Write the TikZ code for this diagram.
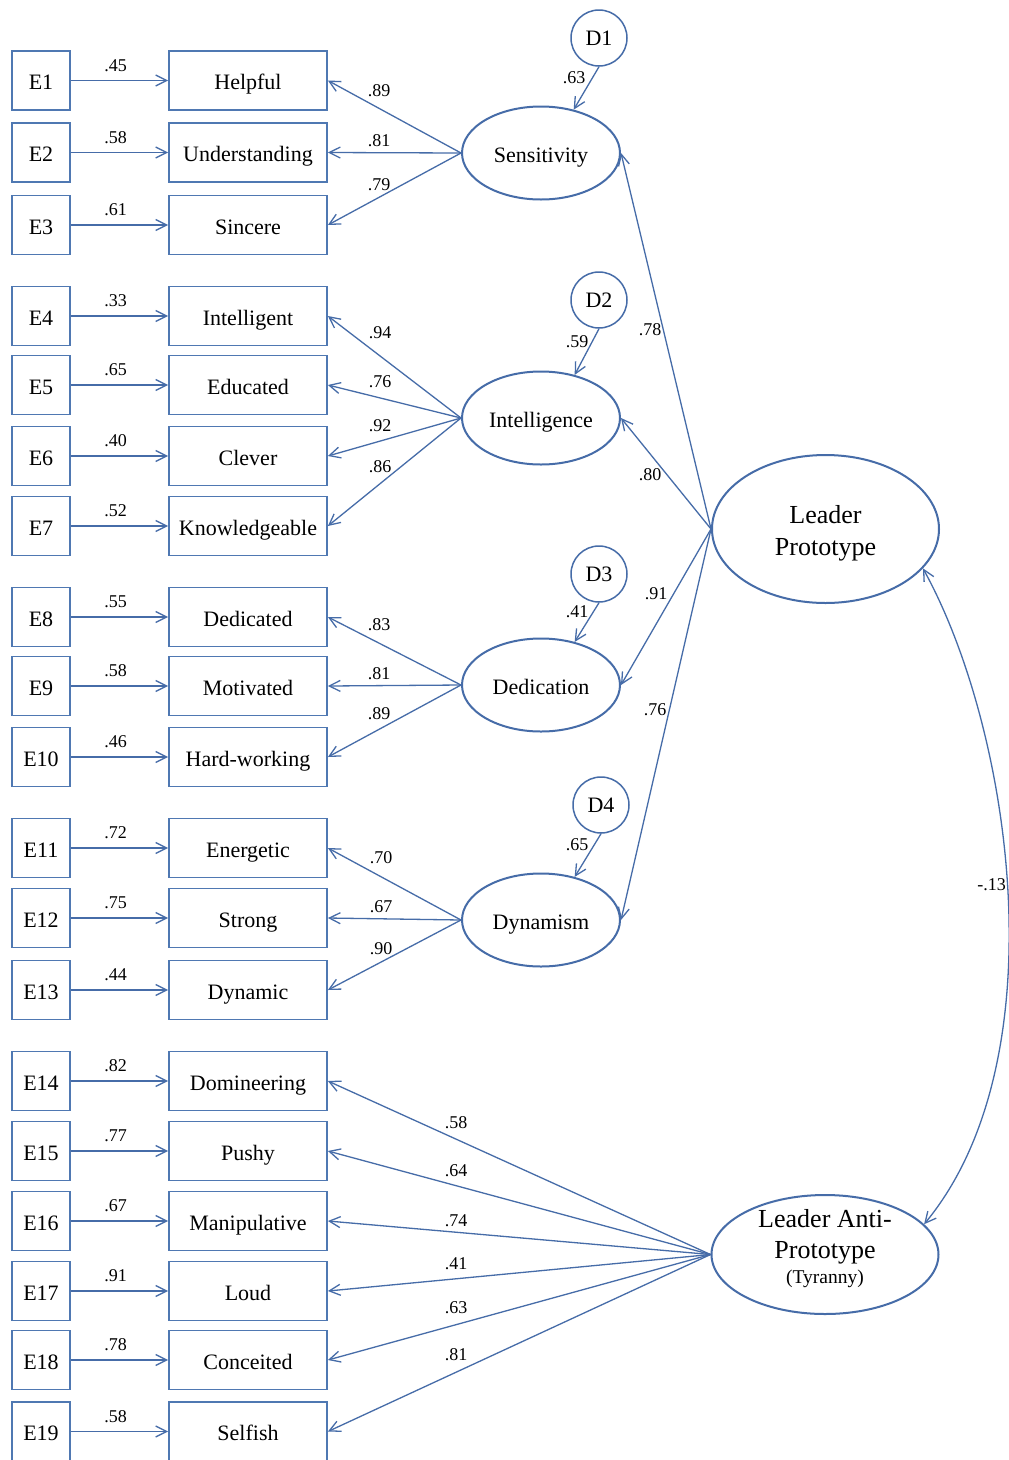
\documentclass[tikz,border=0pt]{standalone}
\usepackage{fontspec}
\setmainfont{Liberation Serif}
\usetikzlibrary{shapes.geometric,arrows.meta}
\definecolor{edgeblue}{RGB}{70,108,168}
\definecolor{boxblue}{RGB}{79,120,178}
\begin{document}
\begin{tikzpicture}[x=1pt,y=-1pt,
  txt/.style={font=\fontsize{22}{26}\selectfont, text height=20pt, text depth=2pt},
  errbox/.style={txt, draw=boxblue, line width=1.8pt, minimum width=58pt, minimum height=59pt, inner sep=0pt},
  itembox/.style={txt, draw=boxblue, line width=1.8pt, minimum width=158pt, minimum height=59pt, inner sep=0pt},
  latent/.style={txt, ellipse, draw=edgeblue, line width=2pt, minimum width=158pt, minimum height=93pt, inner sep=0pt},
  bigfactor/.style={ellipse, draw=edgeblue, line width=2pt, minimum width=227pt, inner sep=0pt},
  dist/.style={font=\fontsize{22}{26}\selectfont, text height=18pt, text depth=3pt, circle, draw=edgeblue, line width=1.5pt, minimum size=56pt, inner sep=0pt},
  arr/.style={draw=edgeblue, line width=1.3pt, -{Straight Barb[length=11pt,width=11pt]}},
  coef/.style={font=\fontsize{18}{20}\selectfont, inner sep=0pt},
]
\fill[white] (0,0) rectangle (1009,1460);
\useasboundingbox (0,0) rectangle (1009,1460);

% error terms, indicators and the error paths
\foreach \n/\y/\name/\w in {
  1/80.5/Helpful/.45, 2/152.5/Understanding/.58, 3/225/Sincere/.61,
  4/316/Intelligent/.33, 5/385/Educated/.65, 6/456/Clever/.40, 7/526/Knowledgeable/.52,
  8/617/Dedicated/.55, 9/686/Motivated/.58, 10/757/Hard-working/.46,
  11/848/Energetic/.72, 12/918/Strong/.75, 13/990/Dynamic/.44,
  14/1081/Domineering/.82, 15/1151/Pushy/.77, 16/1221/Manipulative/.67,
  17/1291/Loud/.91, 18/1360/Conceited/.78, 19/1431.5/Selfish/.58} {
  \node[errbox] (e\n) at (41,\y) {E\n};
  \node[itembox] (i\n) at (248,\y) {\name};
  \draw[arr] (e\n) -- node[coef, above=8.5pt, xshift=-4pt] {\w} (i\n);
}

% first-order factors
\node[latent] (sens) at (541,153) {Sensitivity};
\node[latent] (intl) at (541,418) {Intelligence};
\node[latent] (ded)  at (541,685) {Dedication};
\node[latent] (dyn)  at (541,920) {Dynamism};

% disturbances
\node[dist] (d1) at (599,38)  {D1};
\node[dist] (d2) at (599,300) {D2};
\node[dist] (d3) at (599,574) {D3};
\node[dist] (d4) at (601,805) {D4};

% second-order factors
\node[bigfactor, minimum height=148pt] (lp) at (825.5,529) {};
\node[align=center, inner sep=0pt, font=\fontsize{26}{32}\selectfont]
  (lptext) at (825.5,533) {Leader\\Prototype};
\node[bigfactor, minimum height=119pt] (anti) at (825,1254.5) {};
\node[align=center, inner sep=0pt, font=\fontsize{26}{25}\selectfont]
  (antitext) at (825,1249) {Leader Anti-\\[6pt]Prototype\\{\fontsize{19.5}{25}\selectfont (Tyranny)}};

% loadings of the indicators
\draw[arr] (sens.west) -- (i1.east);
\draw[arr] (sens.west) -- (i2.east);
\draw[arr] (sens.west) -- (i3.east);
\draw[arr] (intl.west) -- (i4.east);
\draw[arr] (intl.west) -- (i5.east);
\draw[arr] (intl.west) -- (i6.east);
\draw[arr] (intl.west) -- (i7.east);
\draw[arr] (ded.west) -- (i8.east);
\draw[arr] (ded.west) -- (i9.east);
\draw[arr] (ded.west) -- (i10.east);
\draw[arr] (dyn.west) -- (i11.east);
\draw[arr] (dyn.west) -- (i12.east);
\draw[arr] (dyn.west) -- (i13.east);
\foreach \n in {14,...,19} \draw[arr] (anti.west) -- (i\n.east);

\node[coef] at (379,91)  {.89};
\node[coef] at (379,141) {.81};
\node[coef] at (379,185) {.79};
\node[coef] at (380,333) {.94};
\node[coef] at (380,382) {.76};
\node[coef] at (380,426) {.92};
\node[coef] at (380,467) {.86};
\node[coef] at (379,625) {.83};
\node[coef] at (379,674) {.81};
\node[coef] at (379,714) {.89};
\node[coef] at (381,858) {.70};
\node[coef] at (381,907) {.67};
\node[coef] at (381,949) {.90};

\node[coef] at (456,1123) {.58};
\node[coef] at (456,1171) {.64};
\node[coef] at (456,1221) {.74};
\node[coef] at (456,1264) {.41};
\node[coef] at (456,1308) {.63};
\node[coef] at (456,1355) {.81};

% disturbance paths
\draw[arr] (d1.south) -- (sens.53);
\draw[arr] (d2.south) -- (intl.52);
\draw[arr] (d3.south) -- (ded.52);
\draw[arr] (d4.south) -- (dyn.52);
\node[coef] at (574,78)  {.63};
\node[coef] at (577,342) {.59};
\node[coef] at (577,612) {.41};
\node[coef] at (577,845) {.65};

% second-order paths
\draw[arr] (lp.west) -- (sens.east);
\draw[arr] (lp.west) -- (intl.east);
\draw[arr] (lp.west) -- (ded.east);
\draw[arr] (lp.west) -- (dyn.east);
\node[coef] at (650,330) {.78};
\node[coef] at (650,475) {.80};
\node[coef] at (656,594) {.91};
\node[coef] at (655,710) {.76};

% correlation between the two second-order factors
\draw[draw=edgeblue, line width=1.3pt,
      {Straight Barb[length=11pt,width=11pt]}-{Straight Barb[length=11pt,width=11pt]}]
  (lp.-22) .. controls (1012,730) and (1060,1060) .. (anti.17);
\node[coef, anchor=east] at (1006,885) {-.13};
\end{tikzpicture}
\end{document}
